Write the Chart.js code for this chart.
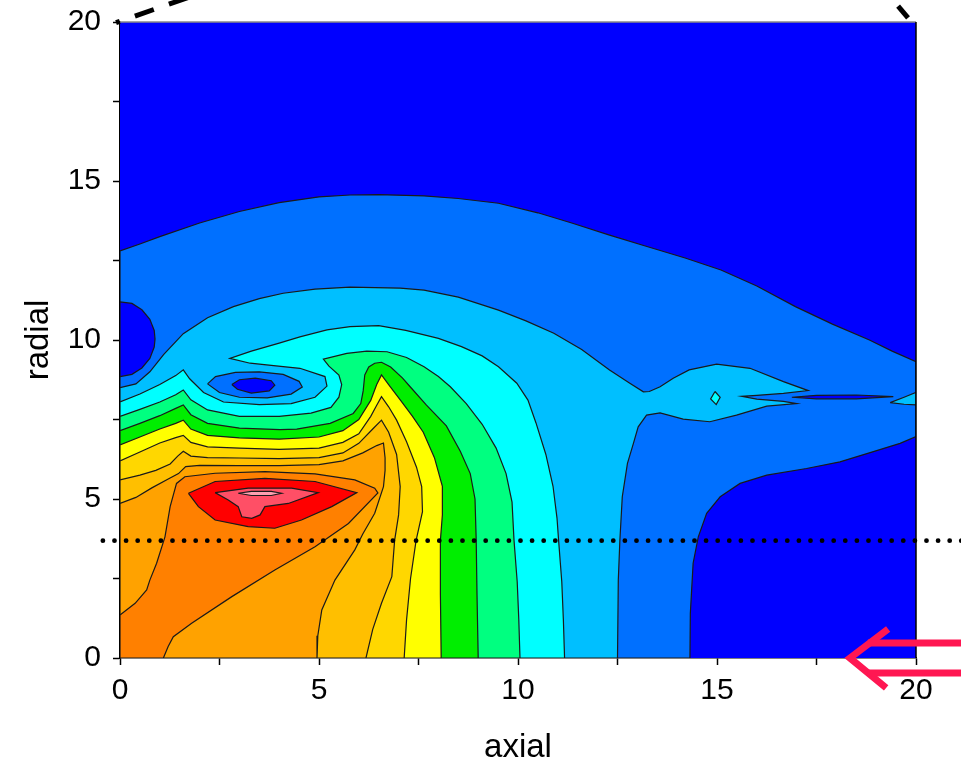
<!DOCTYPE html>
<html><head><meta charset="utf-8">
<script src="https://cdn.jsdelivr.net/npm/chart.js@4.4.1/dist/chart.umd.min.js"></script>
<style>html,body{margin:0;padding:0;background:#fff;}canvas{display:block;}</style>
</head><body>
<canvas id="c" width="961" height="768"></canvas>
<script>
// ---- axes ----
const xTickLabels = [0, 5, 10, 15, 20];
const yTickLabels = [0, 5, 10, 15, 20];

// ---- level colours (low -> high) ----
const levelColors = ['#0000ff','#0070ff','#00bfff','#00ffff','#00ff80','#00ee00','#ffff00','#ffd700','#ffbf00','#ffa200','#ff8000','#ff0000','#ff4f66','#ff9fb0'];

// ---- contour regions (axial, radial) ----
const L0_frame = [[0,0],[0,20],[20,20],[20,0]];
const L1_region = [[0,0],[0,12.8],[0.5,13.02],[1,13.25],[2,13.68],[3,14.04],[4,14.32],[5,14.5],[5.78,14.56],[6.5,14.57],[7.64,14.53],[8.5,14.45],[9.51,14.3],[10.5,14.0],[11.37,13.67],[12.3,13.3],[13.24,12.94],[14.2,12.58],[15.1,12.2],[16.0,11.7],[16.97,11.05],[17.9,10.5],[18.83,10.0],[19.4,9.65],[20,9.32],[20,6.96],[19.6,6.75],[18.93,6.49],[18.09,6.17],[17.25,5.96],[16.25,5.75],[15.58,5.49],[15.08,5.07],[14.74,4.55],[14.53,3.81],[14.4,2.98],[14.33,1.4],[14.32,0]];
const L0_circle = [[0,8.85],[0.3,8.92],[0.55,9.12],[0.75,9.42],[0.86,9.78],[0.88,10.03],[0.86,10.3],[0.75,10.65],[0.55,10.95],[0.3,11.15],[0,11.2]];
const L2_region = [[0,0],[0,8.5],[0.4,8.62],[0.75,9.0],[1.1,9.55],[1.59,10.2],[2.2,10.7],[2.85,11.05],[3.5,11.3],[4.1,11.47],[4.9,11.6],[5.78,11.66],[7.04,11.63],[7.64,11.57],[8.5,11.35],[9.51,10.94],[10.2,10.6],[10.9,10.21],[11.6,9.7],[12.3,9.06],[12.8,8.65],[13.15,8.37],[13.3,8.38],[13.57,8.53],[13.9,8.8],[14.3,9.06],[14.99,9.24],[15.83,9.11],[16.67,8.69],[17.29,8.41],[16.67,8.32],[16.0,8.26],[15.62,8.23],[16.0,8.14],[16.67,8.07],[17.0,8.0],[16.25,7.92],[15.49,7.64],[14.82,7.43],[14.15,7.51],[13.57,7.71],[13.23,7.64],[13.02,7.27],[12.9,6.75],[12.75,6.12],[12.62,5.07],[12.56,3.71],[12.52,2.45],[12.5,0]];
const L2_wedge = [[19.35,8.03],[19.7,8.2],[20,8.35],[20,7.96],[19.7,7.98]];
const L1_ellipse = [[2.2,8.62],[2.4,8.85],[2.9,8.98],[3.5,9.0],[4.1,8.92],[4.5,8.7],[4.58,8.52],[4.3,8.3],[3.7,8.18],[3.0,8.2],[2.5,8.35]];
const L0_ellipse = [[2.81,8.6],[3.0,8.75],[3.4,8.8],[3.8,8.72],[3.89,8.58],[3.75,8.4],[3.3,8.33],[2.95,8.45]];
const L0_sliver = [[16.88,8.2],[17.5,8.26],[18.5,8.27],[19.43,8.22],[18.5,8.15],[17.5,8.15]];
const L3_region = [[0,0],[0,8.05],[0.5,8.3],[1.0,8.6],[1.4,8.88],[1.59,9.06],[1.75,8.78],[2.1,8.35],[2.6,8.05],[3.5,7.97],[4.3,8.0],[4.9,8.2],[5.2,8.55],[5.15,8.85],[4.52,9.11],[3.8,9.2],[3.27,9.27],[2.76,9.42],[3.3,9.65],[4.0,9.9],[4.52,10.1],[5.2,10.32],[5.78,10.42],[6.5,10.45],[7.18,10.3],[8.0,10.05],[8.58,9.79],[9.1,9.5],[9.51,9.16],[9.97,8.64],[10.25,8.11],[10.45,7.4],[10.7,6.4],[10.88,5.4],[10.98,4.4],[11.02,3.7],[11.1,2.4],[11.14,1.2],[11.17,0]];
const L3_diamond = [[14.95,8.38],[15.08,8.2],[14.98,7.97],[14.84,8.15]];
const L4_region = [[0,0],[0,7.6],[0.5,7.82],[1.0,8.05],[1.4,8.28],[1.59,8.43],[1.78,8.12],[2.2,7.8],[3.0,7.6],[4.0,7.6],[4.8,7.7],[5.3,7.88],[5.5,8.2],[5.57,8.6],[5.5,8.9],[5.25,9.18],[5.11,9.4],[5.7,9.58],[6.2,9.65],[6.71,9.63],[7.2,9.45],[7.64,9.16],[8.0,8.85],[8.3,8.53],[8.7,8.0],[9.1,7.35],[9.45,6.6],[9.7,5.8],[9.85,4.9],[9.9,3.7],[9.98,2.4],[10.02,1.2],[10.05,0]];
const L5_region = [[0,0],[0,7.15],[0.5,7.38],[1.0,7.62],[1.4,7.85],[1.59,7.96],[1.78,7.65],[2.2,7.38],[3.0,7.23],[4.02,7.18],[4.44,7.2],[5.28,7.38],[5.86,7.69],[6.05,8.0],[6.11,8.4],[6.15,8.9],[6.25,9.15],[6.4,9.27],[6.57,9.3],[6.8,9.15],[7.1,8.8],[7.29,8.53],[7.7,7.95],[8.2,7.3],[8.55,6.5],[8.8,5.8],[8.92,5.0],[8.95,3.7],[8.97,2.0],[9.0,0]];
const L6_region = [[0,0],[0,6.7],[0.5,6.95],[1.0,7.2],[1.4,7.38],[1.59,7.48],[1.78,7.2],[2.2,7.0],[3.0,6.92],[4.0,6.88],[5.0,6.95],[5.6,7.15],[6.0,7.5],[6.3,8.1],[6.45,8.6],[6.57,8.9],[6.75,8.6],[7.05,8.1],[7.35,7.6],[7.62,7.1],[7.9,6.3],[8.1,5.4],[8.1,4.5],[8.05,3.7],[8.05,2.0],[8.07,0]];
const L7_region = [[0,0],[0,6.2],[0.5,6.48],[1.0,6.76],[1.4,6.93],[1.59,7.0],[1.78,6.78],[2.2,6.64],[3.0,6.6],[4.0,6.56],[5.0,6.6],[5.6,6.78],[6.0,7.05],[6.3,7.6],[6.45,7.95],[6.57,8.22],[6.75,7.9],[6.95,7.48],[7.2,6.8],[7.45,6.0],[7.58,5.39],[7.6,4.6],[7.44,3.7],[7.3,2.5],[7.2,1.2],[7.14,0]];
const L8_region = [[0,0],[0,5.6],[0.5,5.75],[0.9,5.9],[1.26,6.1],[1.45,6.35],[1.59,6.5],[1.78,6.35],[2.2,6.3],[3.0,6.29],[4.0,6.27],[5.0,6.3],[5.6,6.45],[6.0,6.75],[6.35,7.2],[6.57,7.48],[6.75,7.1],[6.95,6.4],[7.04,5.39],[7.0,4.5],[6.9,3.7],[6.83,2.56],[6.57,1.72],[6.35,0.9],[6.18,0]];
const L9_region = [[0,0],[0,4.86],[0.4,5.05],[0.8,5.35],[1.2,5.62],[1.47,5.8],[1.65,6.02],[2.0,6.06],[3.0,6.05],[4.0,6.05],[5.0,6.08],[5.6,6.2],[6.1,6.45],[6.45,6.68],[6.62,6.76],[6.66,6.3],[6.66,5.9],[6.62,5.39],[6.4,4.55],[6.1,3.9],[5.9,3.4],[5.4,2.45],[5.07,1.51],[4.97,0.7],[4.95,0]];
const L10_region = [[0,0],[0,1.35],[0.38,1.72],[0.67,2.14],[0.75,2.45],[0.92,2.98],[1.13,3.81],[1.26,4.76],[1.42,5.49],[1.63,5.7],[2.39,5.81],[3.64,5.86],[4.9,5.79],[5.9,5.6],[6.4,5.34],[6.48,5.19],[5.74,4.23],[4.9,3.5],[3.89,2.77],[2.81,1.93],[1.8,1.09],[1.34,0.67],[1.21,0.36],[1.09,0]];
const L11_region = [[1.72,5.18],[2.39,5.55],[3.64,5.65],[4.9,5.55],[5.95,5.2],[5.32,4.76],[4.56,4.34],[3.89,4.08],[3.22,4.13],[2.39,4.34],[1.97,4.76]];
const L12_region = [[2.39,5.2],[3.22,5.34],[4.31,5.34],[4.98,5.2],[4.23,4.86],[3.64,4.76],[3.52,4.5],[3.31,4.39],[3.06,4.44],[2.97,4.76],[2.72,4.97]];
const L13_region = [[2.97,5.18],[3.3,5.24],[3.8,5.24],[4.06,5.18],[3.8,5.11],[3.3,5.11]];

// ---- annotations (drawn outside/over the plot) ----
const dottedLine = [[-0.43,3.69],[21.2,3.69]];
const dashLeft = [[-0.1,19.98],[1.76,20.79]];
const dashRight = [[19.55,20.5],[19.8,20.13]];
const arrowHead = [[19.3,0.91],[18.34,0],[19.25,-0.94]];
const arrowBarTop = [[18.79,0.47],[21.3,0.47]];
const arrowBarBottom = [[18.79,-0.47],[21.3,-0.47]];

// draw order: [points, level, stroke?]
const layers = [
  [L0_frame,0,false],[L1_region,1,true],[L0_circle,0,true],[L2_region,2,true],[L2_wedge,2,true],
  [L1_ellipse,1,true],[L0_ellipse,0,true],[L0_sliver,0,true],[L3_region,3,true],[L3_diamond,3,true],
  [L4_region,4,true],[L5_region,5,true],[L6_region,6,true],[L7_region,7,true],[L8_region,8,true],
  [L9_region,9,true],[L10_region,10,true],[L11_region,11,true],[L12_region,12,true],[L13_region,13,true]
];

const datasets = layers.map(([pts, lvl, stroke], i) => {
  const data = pts.map(([x, y]) => ({x, y}));
  data.push({x: pts[0][0], y: pts[0][1]});
  return {
    data, fill: 'shape', backgroundColor: levelColors[lvl],
    borderColor: '#1a1a1a', borderWidth: stroke ? 1.2 : 0,
    pointRadius: 0, pointHoverRadius: 0, tension: 0, order: -i
  };
});

const FONT = '"Liberation Sans", Arial, sans-serif';

const framePlugin = {
  id: 'frame',
  afterDatasetsDraw(chart) {
    const {ctx, chartArea: a} = chart;
    ctx.save();
    ctx.lineWidth = 1.5;
    ctx.strokeStyle = '#888';
    ctx.beginPath(); ctx.moveTo(a.left, a.top); ctx.lineTo(a.right, a.top); ctx.stroke();
    ctx.strokeStyle = '#000';
    ctx.beginPath(); ctx.moveTo(a.right, a.top); ctx.lineTo(a.right, a.bottom); ctx.stroke();
    ctx.restore();
  }
};

const decoPlugin = {
  id: 'deco',
  afterDraw(chart) {
    const {ctx} = chart; const xs = chart.scales.x, ys = chart.scales.y;
    const P = p => [xs.getPixelForValue(p[0]), ys.getPixelForValue(p[1])];
    const path = (pts) => { ctx.beginPath(); pts.forEach((p, k) => { const [px, py] = P(p); k ? ctx.lineTo(px, py) : ctx.moveTo(px, py); }); };
    ctx.save();
    ctx.strokeStyle = '#000'; ctx.lineWidth = 4.8; ctx.lineCap = 'round'; ctx.setLineDash([0, 11.6]);
    path(dottedLine); ctx.stroke();
    ctx.lineCap = 'butt'; ctx.lineWidth = 5; ctx.setLineDash([20, 16]); ctx.lineDashOffset = 16;
    path(dashLeft); ctx.stroke();
    ctx.setLineDash([]); ctx.lineDashOffset = 0;
    path(dashRight); ctx.stroke();
    ctx.strokeStyle = '#ff1752'; ctx.lineWidth = 7; ctx.lineJoin = 'miter';
    path(arrowHead); ctx.stroke();
    path(arrowBarTop); ctx.stroke();
    path(arrowBarBottom); ctx.stroke();
    ctx.restore();
  }
};

const tickCb = (labels) => (v) => labels.includes(v) ? String(v) : '';

new Chart(document.getElementById('c'), {
  type: 'line',
  data: { datasets },
  options: {
    responsive: false, animation: false, events: [],
    layout: { padding: { top: 22, right: 45, left: 0, bottom: 0 } },
    plugins: { legend: { display: false }, tooltip: { enabled: false } },
    scales: {
      x: {
        type: 'linear', min: 0, max: 20,
        afterFit: s => { s.height = 110; s.paddingLeft = 0; s.paddingRight = 0; },
        ticks: { stepSize: 2.5, autoSkip: false, maxRotation: 0, color: '#000', padding: 8,
                 font: { family: FONT, size: 30 }, callback: tickCb(xTickLabels) },
        grid: { drawOnChartArea: false, drawTicks: true, tickLength: 7, tickColor: '#000', tickWidth: 1.5 },
        border: { display: true, color: '#000', width: 1.5 },
        title: { display: true, text: 'axial', color: '#000', font: { family: FONT, size: 33 }, padding: { top: 0, bottom: 0 } }
      },
      y: {
        type: 'linear', min: 0, max: 20,
        afterFit: s => { s.width = 120; s.paddingTop = 0; s.paddingBottom = 0; },
        ticks: { stepSize: 2.5, autoSkip: false, color: '#000', padding: 12,
                 font: { family: FONT, size: 30 }, callback: tickCb(yTickLabels) },
        grid: { drawOnChartArea: false, drawTicks: true, tickLength: 7, tickColor: '#000', tickWidth: 1.5 },
        border: { display: true, color: '#000', width: 1.5 },
        title: { display: true, text: 'radial', color: '#000', font: { family: FONT, size: 33 }, padding: { top: 19, bottom: 0 } }
      }
    }
  },
  plugins: [framePlugin, decoPlugin]
});
</script>
</body></html>
